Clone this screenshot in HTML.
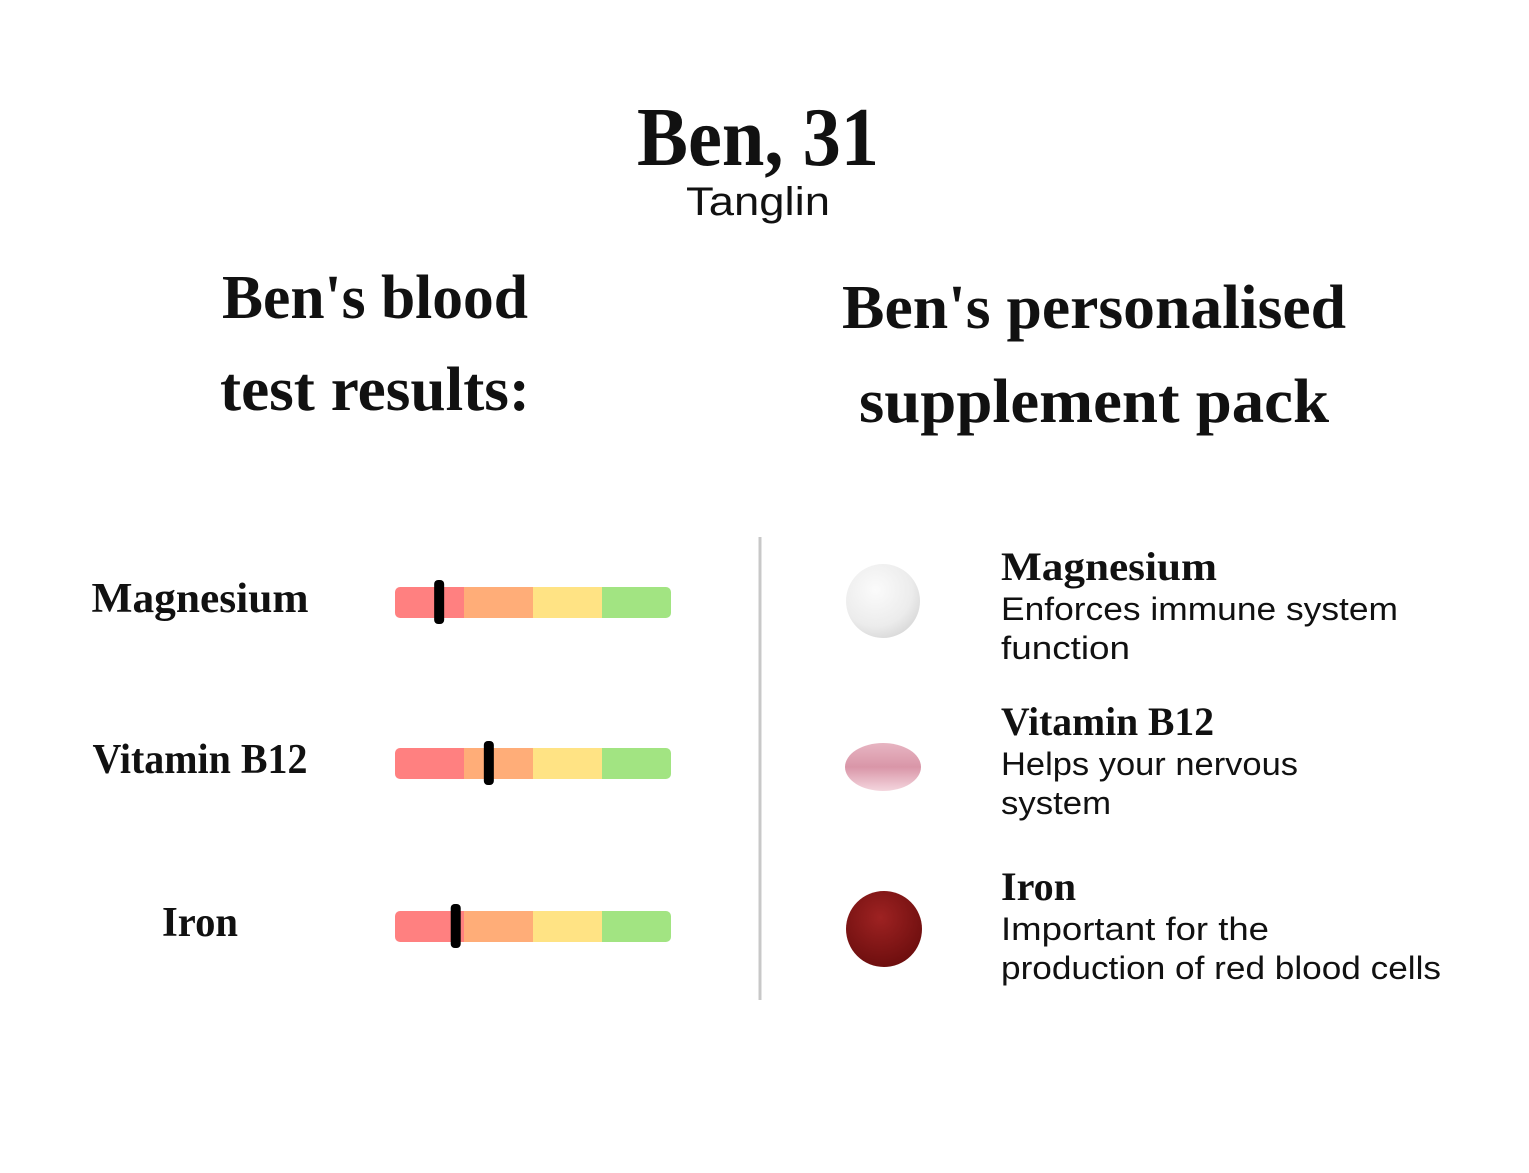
<!DOCTYPE html>
<html><head><meta charset="utf-8"><style>
html,body{margin:0;padding:0;background:#fff;}
svg{display:block;}
.serif{font-family:"Liberation Serif",serif;font-weight:bold;fill:#111;}
.sans{font-family:"Liberation Sans",sans-serif;fill:#111;}
</style></head><body>
<svg id="chart" width="1529" height="1173" viewBox="0 0 1529 1173" xmlns="http://www.w3.org/2000/svg">
<defs>
<radialGradient id="gWhite" cx="40%" cy="35%" r="70%"><stop offset="0" stop-color="#fbfbfb"/><stop offset="0.7" stop-color="#ececec"/><stop offset="1" stop-color="#d8d8d8"/></radialGradient>
<linearGradient id="gPink" x1="0" y1="0" x2="0" y2="1"><stop offset="0" stop-color="#e7b5c2"/><stop offset="0.5" stop-color="#d996a8"/><stop offset="1" stop-color="#f4d6de"/></linearGradient>
<radialGradient id="gRed" cx="45%" cy="35%" r="70%"><stop offset="0" stop-color="#9e2222"/><stop offset="1" stop-color="#6a0d0d"/></radialGradient>
</defs>
<text class="serif" x="758" y="165" font-size="84" text-anchor="middle" textLength="242" lengthAdjust="spacingAndGlyphs">Ben, 31</text>
<text class="sans" x="758" y="215" font-size="40" text-anchor="middle" textLength="144" lengthAdjust="spacingAndGlyphs">Tanglin</text>
<text class="serif" x="375" y="318" font-size="62" text-anchor="middle" textLength="306" lengthAdjust="spacingAndGlyphs">Ben's blood</text>
<text class="serif" x="375" y="410" font-size="62" text-anchor="middle" textLength="310" lengthAdjust="spacingAndGlyphs">test results:</text>
<text class="serif" x="1094" y="328" font-size="62" text-anchor="middle" textLength="504" lengthAdjust="spacingAndGlyphs">Ben's personalised</text>
<text class="serif" x="1094" y="422" font-size="62" text-anchor="middle" textLength="470" lengthAdjust="spacingAndGlyphs">supplement pack</text>
<line x1="760" y1="537" x2="760" y2="1000" stroke="#c8c8c8" stroke-width="3"/>
<g id="bars"></g>
<g id="right"></g>
</svg>
<script>
const nutrients = ["Magnesium", "Vitamin B12", "Iron"];
const levels = [0.16, 0.34, 0.22];
const zoneColors = ["#ff8080", "#ffad78", "#ffe384", "#a2e482"];
const descLine1 = ["Enforces immune system", "Helps your nervous", "Important for the"];
const descLine2 = ["function", "system", "production of red blood cells"];

const labelWidths = [217, 215, 76];
const nameWidths = [216, 213, 75];
const desc1Widths = [397, 297, 268];
const desc2Widths = [129, 110, 440];
const NS = "http://www.w3.org/2000/svg";
const barX0 = 395, barW = 276, barH = 31;
const rowY = [587, 748, 911];
const xScale = v => barX0 + v * barW;
function mk(tag, attrs, parent){const e=document.createElementNS(NS,tag);for(const k in attrs)e.setAttribute(k,attrs[k]);parent.appendChild(e);return e;}
const gb = document.getElementById('bars');
nutrients.forEach((n,i)=>{
  const y = rowY[i];
  const lab = mk('text',{class:'serif',x:200,y:y+25,'font-size':42,'text-anchor':'middle',textLength:labelWidths[i],lengthAdjust:'spacingAndGlyphs'},gb);
  
  
  lab.textContent = n;
  const clip = mk('clipPath',{id:'clip'+i},gb);
  mk('rect',{x:barX0,y:y,width:barW,height:barH,rx:5},clip);
  const g = mk('g',{'clip-path':'url(#clip'+i+')'},gb);
  zoneColors.forEach((c,j)=>{
    const r = mk('rect',{x:xScale(j/4),y:y,width:barW/4+0.5,height:barH,fill:c},g);
    
    
  });
  const m = mk('rect',{x:xScale(levels[i])-5,y:y-7,width:10,height:44,rx:4,fill:'#000'},gb);
  
  
});
const gr = document.getElementById('right');
const nameY = [580, 735, 900];
nutrients.forEach((n,i)=>{
  const t = mk('text',{class:'serif',x:1001,y:nameY[i],'font-size':40,textLength:nameWidths[i],lengthAdjust:'spacingAndGlyphs'},gr);
  
  
  t.textContent = n;
  const d1 = mk('text',{class:'sans',x:1001,y:nameY[i]+40,'font-size':32,textLength:desc1Widths[i],lengthAdjust:'spacingAndGlyphs'},gr);
  
  
  d1.textContent = descLine1[i];
  const d2 = mk('text',{class:'sans',x:1001,y:nameY[i]+79,'font-size':32,textLength:desc2Widths[i],lengthAdjust:'spacingAndGlyphs'},gr);
  
  
  d2.textContent = descLine2[i];
});
const p1 = mk('circle',{cx:883,cy:601,r:37,fill:'url(#gWhite)'},gr);


const p2 = mk('ellipse',{cx:883,cy:767,rx:38,ry:24,fill:'url(#gPink)'},gr);


const p3 = mk('circle',{cx:884,cy:929,r:38,fill:'url(#gRed)'},gr);


</script>
</body></html>
